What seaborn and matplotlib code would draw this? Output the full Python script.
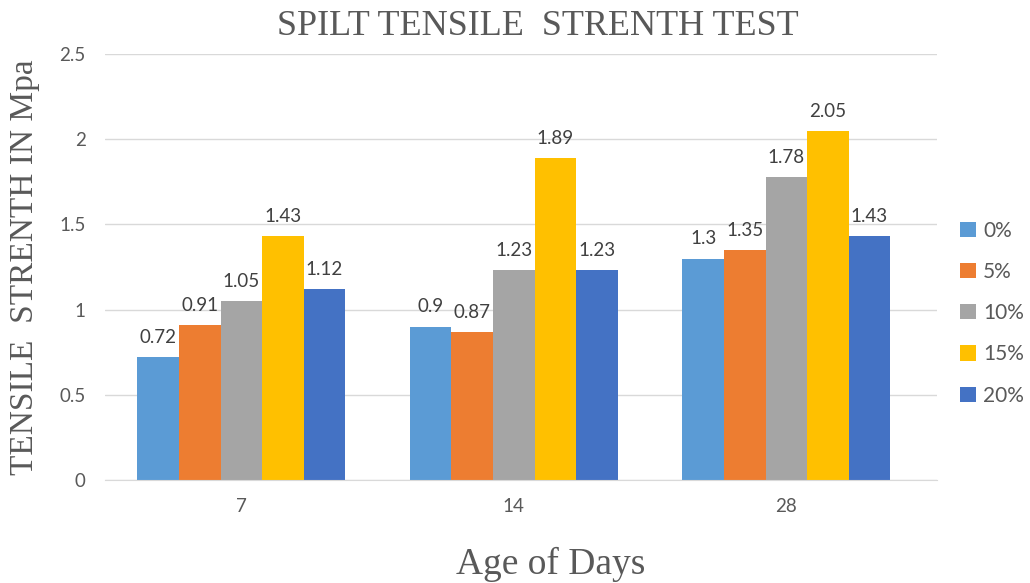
import matplotlib
matplotlib.use("Agg")
import matplotlib.pyplot as plt
import seaborn as sns
import pandas as pd

days = ["7", "14", "28"]
series = ["0%", "5%", "10%", "15%", "20%"]
v0 = [0.72, 0.90, 1.30]
v5 = [0.91, 0.87, 1.35]
v10 = [1.05, 1.23, 1.78]
v15 = [1.43, 1.89, 2.05]
v20 = [1.12, 1.23, 1.43]
labels = {"0%": ["0.72", "0.9", "1.3"], "5%": ["0.91", "0.87", "1.35"],
          "10%": ["1.05", "1.23", "1.78"], "15%": ["1.43", "1.89", "2.05"],
          "20%": ["1.12", "1.23", "1.43"]}
colors = ["#5B9BD5", "#ED7D31", "#A5A5A5", "#FFC000", "#4472C4"]

vals = [v0, v5, v10, v15, v20]
rows = []
for s, vs in zip(series, vals):
    for d, v in zip(days, vs):
        rows.append({"day": d, "pct": s, "val": v})
df = pd.DataFrame(rows)

sns.set_style("white")
fig = plt.figure(figsize=(10.30, 5.83), dpi=100)
ax = fig.add_axes([0.102, 0.177, 0.808, 0.730])
sns.barplot(data=df, x="day", y="val", hue="pct", order=days, hue_order=series,
            palette=colors, width=0.763, gap=0, ax=ax, saturation=1, errorbar=None,
            linewidth=0)
ax.set_xlim(-0.5, 2.554)

txtc = "#595959"
for cont, s in zip(ax.containers, series):
    ax.bar_label(cont, labels=labels[s], padding=8, fontsize=13.5, color="#404040",
                 family="Lato")

ax.set_ylim(0, 2.5)
ax.set_yticks([0, 0.5, 1, 1.5, 2, 2.5])
ax.set_yticklabels(["0", "0.5", "1", "1.5", "2", "2.5"])
ax.yaxis.grid(True, color="#D9D9D9", linewidth=1)
ax.set_axisbelow(True)
for sp in ["top", "right", "left"]:
    ax.spines[sp].set_visible(False)
ax.spines["bottom"].set_color("#D9D9D9")
ax.tick_params(axis="both", length=0, labelsize=13.5, colors=txtc, pad=14)
for t in ax.get_xticklabels() + ax.get_yticklabels():
    t.set_family("Lato")
ax.tick_params(axis="x", pad=13)

ax.set_xlabel("Age of Days", family="Liberation Serif", fontsize=27, color=txtc, labelpad=20)
ax.xaxis.set_label_coords(0.536, -0.2)
ax.xaxis.label.set_va("center")
ax.set_ylabel("TENSILE  STRENTH IN Mpa", family="Liberation Serif", fontsize=24, color=txtc, labelpad=14)
fig.suptitle("SPILT TENSILE  STRENTH TEST", family="Liberation Serif", fontsize=26,
             color=txtc, x=0.522, y=0.982)

leg = ax.legend(loc="center left", bbox_to_anchor=(0.932, 0.463),
                bbox_transform=fig.transFigure, frameon=False,
                prop={"family": "Lato", "size": 15}, labelspacing=1.02,
                handlelength=0.75, handleheight=0.75, handletextpad=0.35, title=None,
                borderaxespad=0, borderpad=0)
for t in leg.get_texts():
    t.set_color(txtc)

fig.savefig("out.png", dpi=100)
